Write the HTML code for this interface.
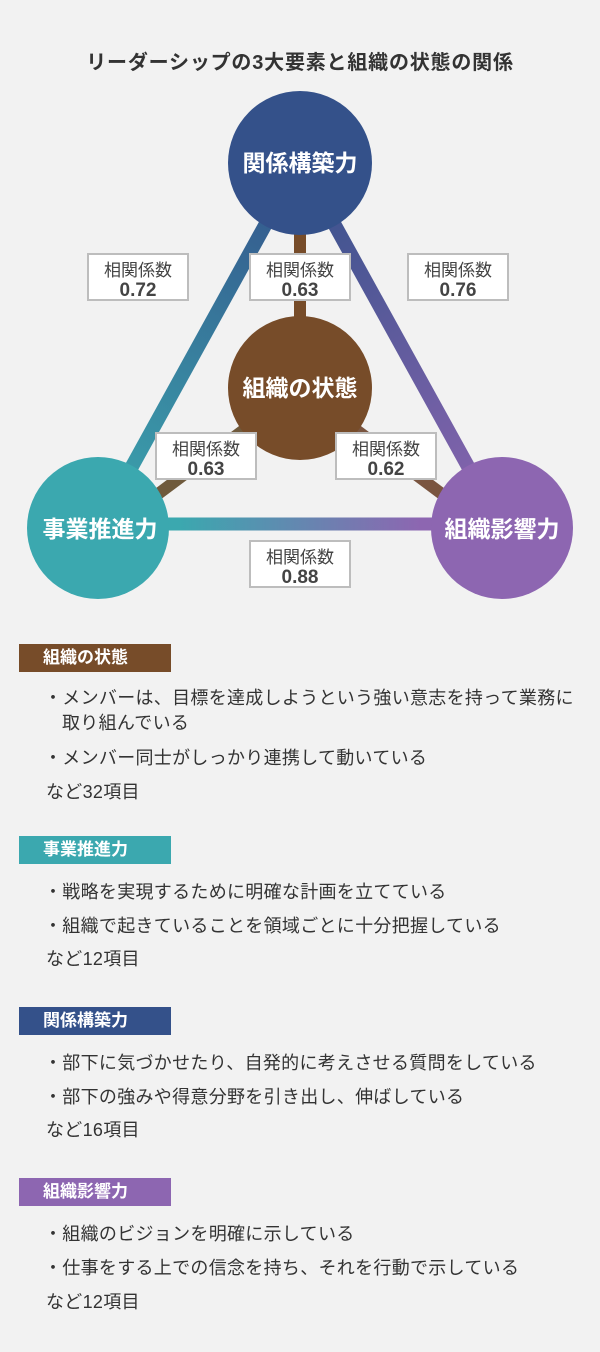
<!DOCTYPE html>
<html><head><meta charset="utf-8"><style>
*{margin:0;padding:0;box-sizing:border-box}
body{width:600px;height:1352px;background:#f2f2f2;position:relative;overflow:hidden;font-family:"Liberation Sans","Noto Sans CJK JP",sans-serif;color:#333}
.t{position:absolute;white-space:nowrap}
.h{position:absolute;left:19px;width:152px;height:28px;color:#fff;font-weight:bold;font-size:17px;line-height:28px;padding-left:24px}
.l{position:absolute;font-size:18px;letter-spacing:0.3px;color:#333;white-space:nowrap}
</style></head><body>
<div class="t" style="left:0;width:600px;text-align:center;top:46px;font-size:20px;letter-spacing:0.8px;font-weight:bold;color:#333">リーダーシップの3大要素と組織の状態の関係</div>
<svg width="600" height="620" style="position:absolute;left:0;top:0" xmlns="http://www.w3.org/2000/svg">
<defs>
<linearGradient id="gl" x1="300" y1="162" x2="98" y2="528" gradientUnits="userSpaceOnUse"><stop offset="0" stop-color="#34518a"/><stop offset="1" stop-color="#3ba8af"/></linearGradient>
<linearGradient id="gr" x1="300" y1="162" x2="502" y2="528" gradientUnits="userSpaceOnUse"><stop offset="0" stop-color="#34518a"/><stop offset="1" stop-color="#8d66b1"/></linearGradient>
<linearGradient id="gb" x1="98" y1="528" x2="502" y2="528" gradientUnits="userSpaceOnUse"><stop offset="0.2" stop-color="#3ba8af"/><stop offset="0.8" stop-color="#8d66b1"/></linearGradient>
</defs>
<line x1="300" y1="162" x2="98" y2="528" stroke="url(#gl)" stroke-width="14"/>
<line x1="300" y1="162" x2="502" y2="528" stroke="url(#gr)" stroke-width="14"/>
<line x1="98" y1="524" x2="502" y2="524" stroke="url(#gb)" stroke-width="13"/>
<line x1="300" y1="388" x2="300" y2="162" stroke="#774c29" stroke-width="12"/>
<line x1="300" y1="388" x2="150" y2="500" stroke="#6f5a3c" stroke-width="12"/>
<line x1="300" y1="388" x2="450" y2="500" stroke="#7a5540" stroke-width="12"/>
<circle cx="300" cy="163" r="72" fill="#34518a"/>
<circle cx="300" cy="388" r="72" fill="#774c29"/>
<circle cx="98" cy="528" r="71" fill="#3ba8af"/>
<circle cx="502" cy="528" r="71" fill="#8d66b1"/>
<g fill="#fff" stroke="#bdbdbd" stroke-width="2">
<rect x="88" y="254" width="100" height="46"/>
<rect x="250" y="254" width="100" height="46"/>
<rect x="408" y="254" width="100" height="46"/>
<rect x="156" y="433" width="100" height="46"/>
<rect x="336" y="433" width="100" height="46"/>
<rect x="250" y="541" width="100" height="46"/>
</g>
<g font-family="Liberation Sans, Noto Sans CJK JP, sans-serif" text-anchor="middle">
<g fill="#fff" font-weight="bold" font-size="23">
<text x="300" y="171">関係構築力</text>
<text x="300" y="396">組織の状態</text>
<text x="100" y="537">事業推進力</text>
<text x="502" y="537">組織影響力</text>
</g>
<g fill="#444" font-size="17">
<text x="138" y="276">相関係数</text>
<text x="300" y="276">相関係数</text>
<text x="458" y="276">相関係数</text>
<text x="206" y="455">相関係数</text>
<text x="386" y="455">相関係数</text>
<text x="300" y="563">相関係数</text>
</g>
<g fill="#444" font-size="19" font-weight="bold">
<text x="138" y="296">0.72</text>
<text x="300" y="296">0.63</text>
<text x="458" y="296">0.76</text>
<text x="206" y="475">0.63</text>
<text x="386" y="475">0.62</text>
<text x="300" y="583">0.88</text>
</g>
</g>
</svg>

<div class="h" style="top:644px;background:#774c29">組織の状態</div>
<div class="l" style="left:44px;top:684px">・メンバーは、目標を達成しようという強い意志を持って業務に</div>
<div class="l" style="left:62px;top:709px">取り組んでいる</div>
<div class="l" style="left:44px;top:744px">・メンバー同士がしっかり連携して動いている</div>
<div class="l" style="left:46px;top:778px">など32項目</div>

<div class="h" style="top:836px;background:#3ba8af">事業推進力</div>
<div class="l" style="left:44px;top:878px">・戦略を実現するために明確な計画を立てている</div>
<div class="l" style="left:44px;top:912px">・組織で起きていることを領域ごとに十分把握している</div>
<div class="l" style="left:46px;top:945px">など12項目</div>

<div class="h" style="top:1007px;background:#34518a">関係構築力</div>
<div class="l" style="left:44px;top:1049px">・部下に気づかせたり、自発的に考えさせる質問をしている</div>
<div class="l" style="left:44px;top:1083px">・部下の強みや得意分野を引き出し、伸ばしている</div>
<div class="l" style="left:46px;top:1116px">など16項目</div>

<div class="h" style="top:1178px;background:#8d66b1">組織影響力</div>
<div class="l" style="left:44px;top:1220px">・組織のビジョンを明確に示している</div>
<div class="l" style="left:44px;top:1254px">・仕事をする上での信念を持ち、それを行動で示している</div>
<div class="l" style="left:46px;top:1288px">など12項目</div>
</body></html>
